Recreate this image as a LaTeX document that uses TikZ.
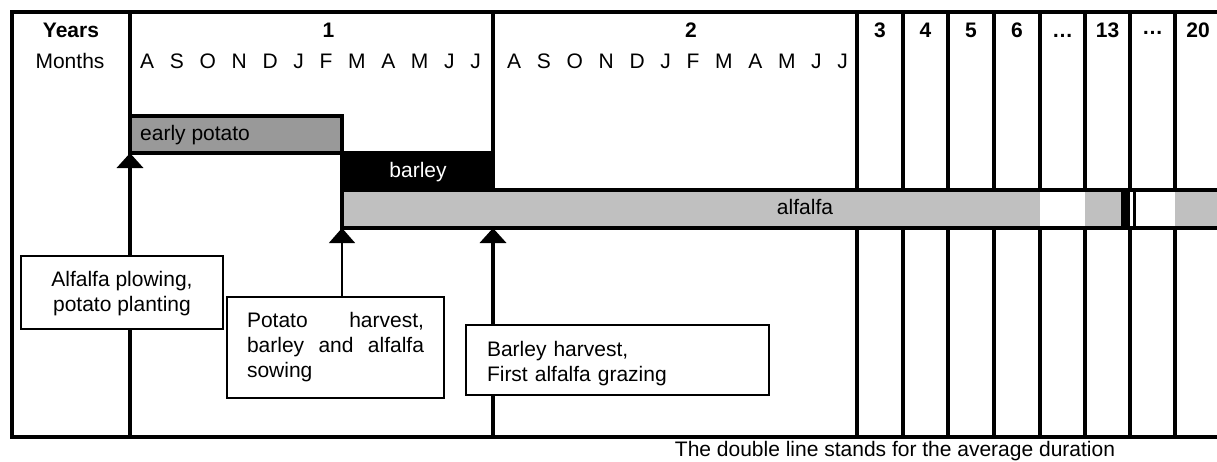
\documentclass[tikz,border=0pt]{standalone}
\usepackage{fontspec}
\setmainfont{Liberation Sans}
\usetikzlibrary{arrows.meta}
\definecolor{potatogray}{HTML}{999999}
\definecolor{alfgray}{HTML}{C0C0C0}
\newcommand\mgap{\hspace{15.7pt}}
\begin{document}
\begin{tikzpicture}[x=1pt,y=-1pt,
  font=\fontsize{21}{25}\selectfont,
  frame/.style={line width=4pt},
  col/.style={line width=3.5pt},
  bar/.style={draw, line width=3.5pt, inner sep=0pt, outer sep=0pt, anchor=north west},
  evbox/.style={draw, line width=1.5pt, fill=white, inner sep=0pt, outer sep=0pt, anchor=north west},
  arr/.style={-{Triangle[width=26pt,length=15pt]}},
  thickarr/.style={arr, line width=4pt},
  thinarr/.style={arr, line width=1.5pt},
  lbl/.style={anchor=base, inner sep=0pt},
  yr/.style={lbl, font=\fontsize{21}{25}\selectfont\bfseries},
]
\useasboundingbox (0,0) rectangle (1217,461);
\clip (0,0) rectangle (1217,461);

% grid lines of the later years
\foreach \x in {857,903,948,994,1040,1085,1130,1175}
  \draw[col] (\x,12) -- (\x,437);
\draw[col] (130,12) -- (130,116);
\draw[col] (493,12) -- (493,153);

% header texts
\node[yr] (years) at (71,37) {Years};
\node[lbl] (months) at (70,68) {Months};
\node[yr] (y1) at (328.5,37) {1};
\node[yr] (y2) at (691,37) {2};
\node[yr] (y3) at (880,37) {3};
\node[yr] (y4) at (925.5,37) {4};
\node[yr] (y5) at (971,37) {5};
\node[yr] (y6) at (1017,37) {6};
\node[yr] (yd1) at (1062.5,37) {…};
\node[yr] (y13) at (1107.5,37) {13};
\node[yr] (yd2) at (1152.5,34) {…};
\node[yr] (y20) at (1198,37) {20};

\node[lbl, anchor=base west] (mon1) at (140,68)
  {A\mgap S\mgap O\mgap N\mgap D\mgap J\mgap F\mgap M\mgap A\mgap M\mgap J\mgap J};
\node[lbl, anchor=base west] (mon2) at (507,68)
  {A\mgap S\mgap O\mgap N\mgap D\mgap J\mgap F\mgap M\mgap A\mgap M\mgap J\mgap J};

% crop bars
\node[bar, fill=potatogray, minimum width=212pt, minimum height=37pt] (potato) at (130,116) {};
\node[lbl, anchor=base west] (potatotxt) at (140,140) {early potato};
\node[bar, fill=black, minimum width=151pt, minimum height=37pt] (barley) at (342,153) {};
\node[lbl, text=white] (barleytxt) at (418,177) {barley};
\node[bar, fill=alfgray, minimum width=900pt, minimum height=38pt] (alf) at (342,190) {};
\fill[white] (1040,191.75) rectangle (1085,226.25);
\fill[white] (1129.5,191.75) rectangle (1175,226.25);
\fill[black] (1121,190) rectangle (1129.5,228);
\fill[black] (1132.7,190) rectangle (1136.2,228);
\node[lbl] (alftxt) at (805,214) {alfalfa};

% arrows
\coordinate (bot1) at (130,437);
\coordinate (bot3) at (493,437);
\draw[thickarr] (bot1) -- (potato.south west);
\draw[thickarr] (bot3) -- (alf.south -| barley.south east);

% event boxes
\node[evbox, minimum width=202pt, minimum height=73pt, align=center] (b1) at (21,256)
  {\rule{0pt}{17.5pt}Alfalfa plowing,\\potato planting};
\node[evbox, minimum width=217pt, minimum height=101pt, text width=177pt, align=left] (b2) at (227,297)
  {\makebox[177pt][l]{Potato\hfill harvest,}\\\makebox[177pt][l]{barley\hfill and\hfill alfalfa}\\sowing};
\node[evbox, minimum width=303pt, minimum height=70pt, text width=261pt, align=left] (b3) at (466,325)
  {\rule{0pt}{23pt}Barley harvest,\\First alfalfa grazing};
\draw[thinarr] (b2.north -| alf.south west) -- (alf.south west);

% frame
\draw[frame] (1240,12) -- (12,12) -- (12,437) -- (1240,437);

\node[lbl] (note) at (895,456) {The double line stands for the average duration};
\end{tikzpicture}
\end{document}
